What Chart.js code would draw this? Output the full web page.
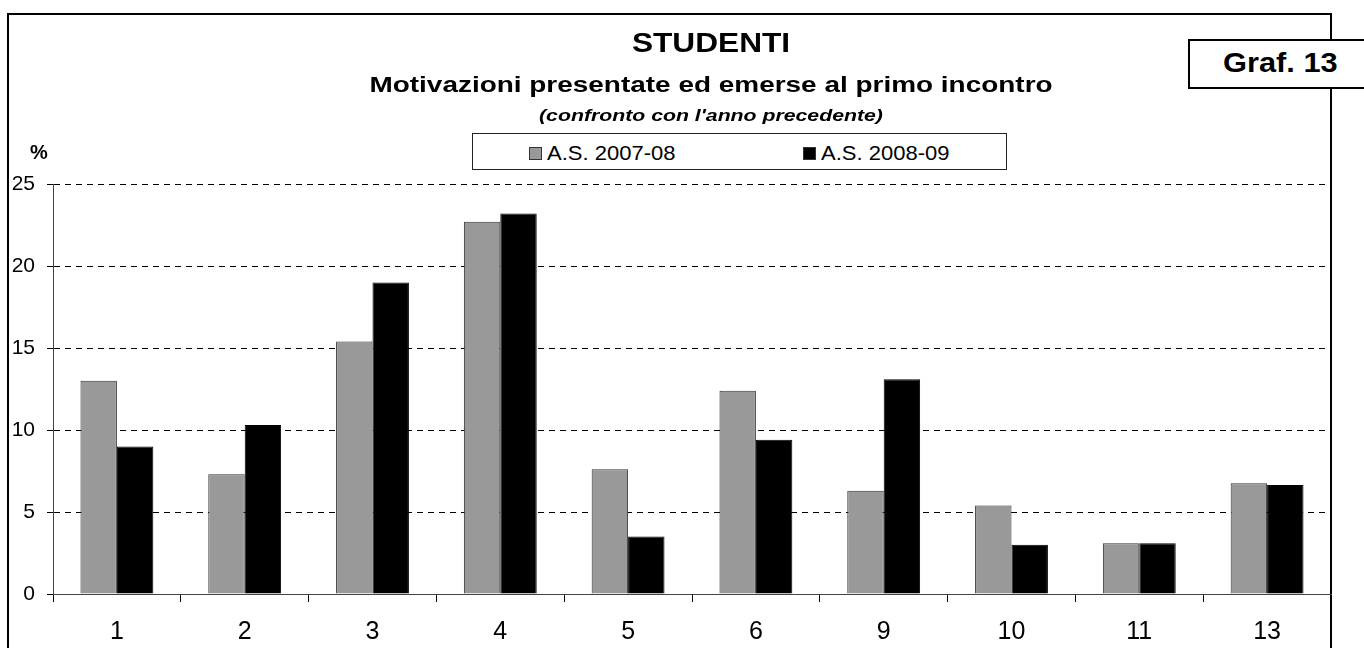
<!DOCTYPE html>
<html>
<head>
<meta charset="utf-8">
<script src="https://cdn.jsdelivr.net/npm/chart.js@4.4.0/dist/chart.umd.min.js"></script>
<style>
  body { margin: 0; width: 1364px; height: 648px; overflow: hidden; background: #fff; position: relative;
         font-family: Arial, "Liberation Sans", sans-serif; color: #000; }
  #frame { position: absolute; left: 7px; top: 13px; width: 1325px; height: 720px; border: 2px solid #000; box-sizing: border-box; }
  #chart { position: absolute; left: 0; top: 0; }
  /* the titles in the original are a little wider than plain Arial */
  .title { position: absolute; left: 211px; width: 1000px; text-align: center; font-weight: bold; line-height: 1;
           white-space: nowrap; transform-origin: 500px 0; }
  #t1 { top: 29px; font-size: 28px; transform: scaleX(1.13); }
  #t2 { top: 74px; font-size: 22px; transform: scaleX(1.27); }
  #t3 { top: 107px; font-size: 17px; font-style: italic; transform: scaleX(1.25); }
  #legend { position: absolute; left: 472px; top: 133px; width: 535px; height: 37px; border: 1px solid #222; box-sizing: border-box; background: #fff; }
  .item { position: absolute; top: 9px; font-size: 20px; line-height: 1; white-space: nowrap; }
  .swatch { position: absolute; left: 0; top: 4px; width: 13px; height: 13px; border: 1px solid #333; box-sizing: border-box; }
  .label { position: absolute; left: 18px; top: 0; transform: scaleX(1.1); transform-origin: 0 0; }
  #unit { position: absolute; left: 30px; top: 142px; font-size: 20px; font-weight: bold; line-height: 1; }
  #graf { position: absolute; left: 1188px; top: 39px; width: 190px; height: 50px; border: 2px solid #000; box-sizing: border-box; background: #fff; }
  #graf span { position: absolute; left: 33px; top: 8px; font-size: 28px; font-weight: bold; line-height: 1; white-space: nowrap;
               transform: scaleX(1.1); transform-origin: 0 0; }
</style>
</head>
<body>
<div id="frame"></div>
<canvas id="chart" width="1364" height="648"></canvas>
<div class="title" id="t1">STUDENTI</div>
<div class="title" id="t2">Motivazioni presentate ed emerse al primo incontro</div>
<div class="title" id="t3">(confronto con l'anno precedente)</div>
<div id="legend"></div>
<div id="unit">%</div>
<div id="graf"><span>Graf. 13</span></div>
<script>
// motivation codes on the x axis
const categories = ['1', '2', '3', '4', '5', '6', '9', '10', '11', '13'];
const seriesLabels = ['A.S. 2007-08', 'A.S. 2008-09'];
// percentages
const values2007 = [13.0, 7.3, 15.4, 22.7, 7.6, 12.4, 6.3, 5.4, 3.1, 6.75];
const values2008 = [9.0, 10.3, 19.0, 23.2, 3.5, 9.4, 13.1, 3.0, 3.1, 6.65];
const yTicks = [0, 5, 10, 15, 20, 25];

const FONT = 'Arial, "Liberation Sans", sans-serif';
const colors = ['#999999', '#000000'];

const datasets = [values2007, values2008].map((data, i) => ({
  label: seriesLabels[i],
  data: data,
  backgroundColor: colors[i],
  borderColor: i === 0 ? '#333333' : '#000000',
  borderWidth: 1,
  categoryPercentage: 0.57,
  barPercentage: 1.0
}));

// legend built from the same series
const legendEl = document.getElementById('legend');
const legendX = [56, 330];
datasets.forEach((ds, i) => {
  const item = document.createElement('div');
  item.className = 'item';
  item.style.left = legendX[i] + 'px';
  const sw = document.createElement('span');
  sw.className = 'swatch';
  sw.style.background = ds.backgroundColor;
  const txt = document.createElement('span');
  txt.className = 'label';
  txt.textContent = ds.label;
  item.appendChild(sw);
  item.appendChild(txt);
  legendEl.appendChild(item);
});

new Chart(document.getElementById('chart').getContext('2d'), {
  type: 'bar',
  data: { labels: categories, datasets: datasets },
  options: {
    responsive: false,
    animation: false,
    devicePixelRatio: 1,
    layout: { padding: { left: 0, right: 33, top: 184, bottom: 0 } },
    plugins: { legend: { display: false }, title: { display: false }, tooltip: { enabled: false } },
    scales: {
      x: {
        grid: { offset: true, drawOnChartArea: false, tickLength: 8, color: '#000', lineWidth: 1 },
        border: { display: true, color: '#444', width: 1 },
        ticks: { color: '#000', font: { family: FONT, size: 25 }, padding: 15, maxRotation: 0 },
        afterFit: s => { s.height = 54; }
      },
      y: {
        min: 0,
        max: 25,
        afterBuildTicks: s => { s.ticks = yTicks.map(v => ({ value: v })); },
        grid: { color: '#000', lineWidth: 1, tickLength: 6, tickBorderDash: [], tickColor: '#000' },
        border: { display: true, color: '#444', width: 1, dash: [6, 5] },
        ticks: { color: '#000', font: { family: FONT, size: 21 }, padding: 12 },
        afterFit: s => { s.width = 53; }
      }
    }
  }
});
</script>
</body>
</html>
